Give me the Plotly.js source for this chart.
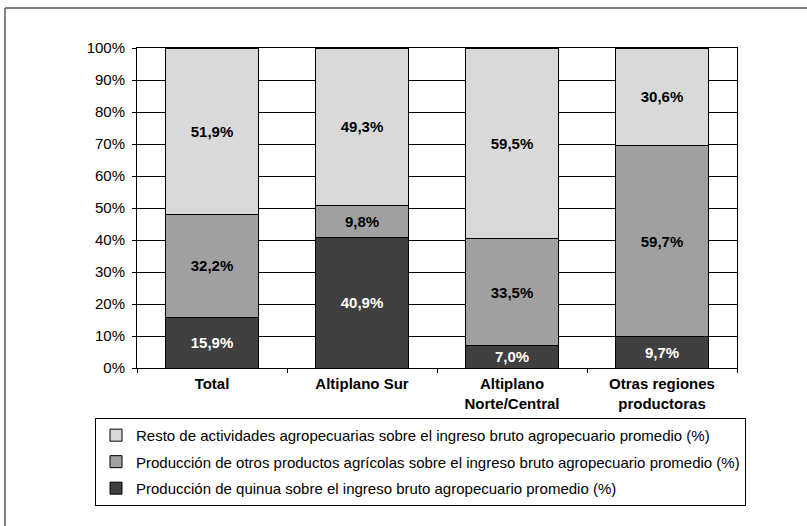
<!DOCTYPE html>
<html><head><meta charset="utf-8">
<script src="https://cdn.plot.ly/plotly-3.0.1.min.js"></script>
<style>html,body{margin:0;padding:0;background:#fff}#chart{width:807px;height:526px}</style>
</head><body><div id="chart"></div>
<script>
const categories = ["Total", "Altiplano Sur", "Altiplano<br>Norte/Central", "Otras regiones<br>productoras"];
const quinua = [15.9, 40.9, 7.0, 9.7];
const otros = [32.2, 9.8, 33.5, 59.7];
const resto = [51.9, 49.3, 59.5, 30.6];
const names = [
  "Producción de quinua sobre el ingreso bruto agropecuario promedio (%)",
  "Producción de otros productos agrícolas sobre el ingreso bruto agropecuario promedio (%)",
  "Resto de actividades agropecuarias sobre el ingreso bruto agropecuario promedio (%)"
];
const colors = ["#404040", "#a0a0a0", "#d9d9d9"];
const textColors = ["#ffffff", "#000000", "#000000"];
const series = [quinua, otros, resto];

const font = "Liberation Sans, Arial, sans-serif";
const traces = series.map((vals, i) => ({
  type: "bar",
  x: categories,
  y: vals,
  name: names[i],
  legendgroup: "g" + i,
  legendrank: 3 - i,
  marker: {color: colors[i], line: {color: "#000", width: 1}},
  texttemplate: "%{y:.1f}%",
  textposition: "inside",
  insidetextanchor: "middle",
  constraintext: "none",
  textangle: 0,
  textfont: {family: font, size: 15, color: textColors[i], weight: "bold"},
  hoverinfo: "skip"
}));

const layout = {
  width: 807, height: 526,
  margin: {l: 137, r: 70, t: 48, b: 158},
  barmode: "stack",
  bargap: 0.38,
  separators: ",.",
  paper_bgcolor: "#fff",
  plot_bgcolor: "#fff",
  font: {family: font, size: 15, color: "#000"},
  xaxis: {
    type: "category",
    showline: true, linecolor: "#000", linewidth: 1, mirror: true,
    ticks: "outside", tickson: "boundaries", ticklen: 4, tickcolor: "#000",
    tickfont: {family: font, size: 15, color: "#000", weight: "bold"},
    ticklabelstandoff: 2,
    showgrid: false
  },
  yaxis: {
    range: [0, 100], dtick: 10, ticksuffix: "%",
    showline: true, linecolor: "#000", linewidth: 1, mirror: true,
    ticks: "outside", ticklen: 4, tickcolor: "#000",
    ticklabelstandoff: 4,
    showgrid: true, gridcolor: "#000", gridwidth: 1,
    zeroline: false,
    tickfont: {family: font, size: 15, color: "#000"}
  },
  showlegend: true,
  legend: {
    x: -0.07, y: -0.156, xanchor: "left", yanchor: "top",
    orientation: "v",
    traceorder: "grouped",
    tracegroupgap: 4,
    bordercolor: "#000", borderwidth: 1,
    bgcolor: "#fff",
    font: {family: font, size: 15, color: "#000"}
  },
  shapes: [
    {type: "line", xref: "paper", yref: "paper", x0: -0.22, x1: -0.22, y0: 1.125, y1: -0.7, line: {color: "#555", width: 1.5}},
    {type: "line", xref: "paper", yref: "paper", x0: -0.22, x1: 1.2, y0: 1.125, y1: 1.125, line: {color: "#555", width: 1.5}}
  ]
};

Plotly.newPlot("chart", traces, layout, {staticPlot: true});
</script>
</body></html>
